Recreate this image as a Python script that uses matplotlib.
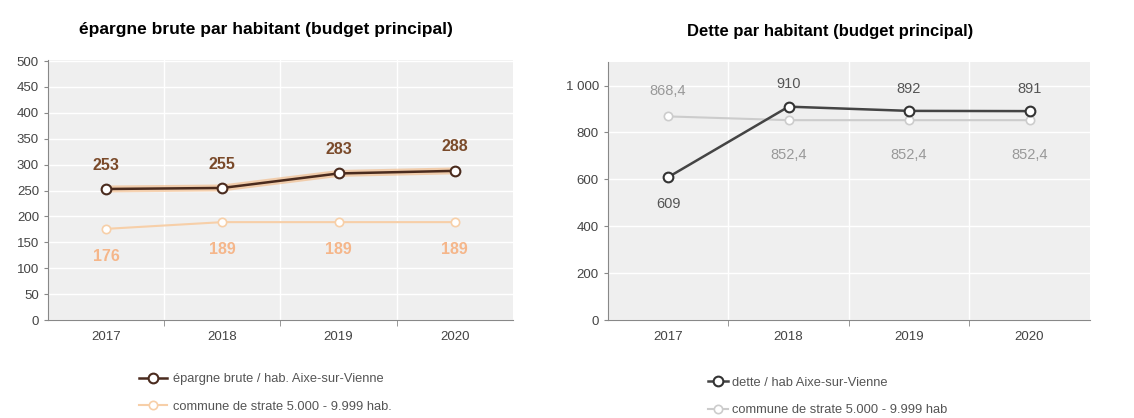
# two line charts: épargne brute and dette par habitant

import matplotlib.pyplot as plt
from matplotlib.ticker import FuncFormatter

plt.rcParams['font.family'] = ['Liberation Sans', 'DejaVu Sans']

years = ['2017', '2018', '2019', '2020']

# épargne brute par habitant
epargne_commune = [253, 255, 283, 288]
epargne_strate = [176, 189, 189, 189]
epargne_strate_labels = ['176', '189', '189', '189']

# dette par habitant
dette_commune = [609, 910, 892, 891]
dette_strate = [868.4, 852.4, 852.4, 852.4]
dette_strate_labels = ['868,4', '852,4', '852,4', '852,4']

x = range(len(years))

fig = plt.figure(figsize=(11.34, 4.18), dpi=100)
ax1 = fig.add_axes([0.0423, 0.2344, 0.410, 0.622])
ax2 = fig.add_axes([0.536, 0.2344, 0.425, 0.617])


def style_axes(ax, ymax, yticks):
    ax.set_facecolor('#efefef')
    ax.set_xlim(-0.5, 3.5)
    ax.set_ylim(0, ymax)
    ax.set_yticks(yticks)
    ax.set_xticks(list(x))
    ax.set_xticklabels(years, fontsize=9.5, color='#444444')
    ax.set_xticks([0.5, 1.5, 2.5], minor=True)
    ax.tick_params(axis='x', which='major', length=0, pad=8)
    ax.tick_params(axis='x', which='minor', length=4, color='#888888')
    ax.tick_params(axis='y', length=3, color='#888888', labelsize=9.5, labelcolor='#444444')
    ax.grid(True, axis='y', color='white', lw=1)
    ax.grid(True, axis='x', which='minor', color='white', lw=1)
    ax.set_axisbelow(True)
    for s in ['top', 'right']:
        ax.spines[s].set_visible(False)
    ax.spines['left'].set_color('#888888')
    ax.spines['bottom'].set_color('#888888')


# --- left chart
style_axes(ax1, 502, range(0, 501, 50))
ax1.set_title('épargne brute par habitant (budget principal)', fontsize=12.5,
              fontweight='bold', pad=19, x=0.469)
ax1.plot(x, epargne_strate, color='#f7cfa8', lw=1.5, marker='o', ms=6,
         mfc='white', mec='#f7cfa8', mew=1.2,
         label='commune de strate 5.000 - 9.999 hab.')
ax1.plot(x, epargne_commune, color='#f2b67f', lw=5, alpha=0.6, zorder=2)
ax1.plot(x, epargne_commune, color='#4a2b1e', lw=1.8, marker='o', ms=7,
         mfc='white', mec='#4a2b1e', mew=1.5, zorder=3,
         label='épargne brute / hab. Aixe-sur-Vienne')
for i, v in enumerate(epargne_commune):
    ax1.annotate(str(v), (i, v), xytext=(0, 14), textcoords='offset points',
                 ha='center', fontsize=11.5, fontweight='bold', color='#7a4a2a')
for i, v in enumerate(epargne_strate):
    ax1.annotate(epargne_strate_labels[i], (i, v), xytext=(0, -20),
                 textcoords='offset points', ha='center', va='center',
                 fontsize=11.5, fontweight='bold', color='#f5b68a')
h, l = ax1.get_legend_handles_labels()
ax1.legend(h[::-1], l[::-1], loc='upper center', bbox_to_anchor=(0.467, -0.16),
           frameon=False, fontsize=9.3, handlelength=2.2, handletextpad=0.4,
           labelspacing=1.2, labelcolor='#555555')

# --- right chart
style_axes(ax2, 1100, range(0, 1001, 200))
ax2.yaxis.set_major_formatter(FuncFormatter(lambda v, p: f'{int(v):,}'.replace(',', ' ')))
ax2.set_title('Dette par habitant (budget principal)', fontsize=12,
              fontweight='bold', pad=19, x=0.462)
ax2.plot(x, dette_strate, color='#cccccc', lw=1.5, marker='o', ms=6,
         mfc='white', mec='#cccccc', mew=1.2,
         label='commune de strate 5.000 - 9.999 hab')
ax2.plot(x, dette_commune, color='#444444', lw=1.8, marker='o', ms=7,
         mfc='white', mec='#333333', mew=1.5, zorder=3,
         label='dette / hab Aixe-sur-Vienne')
for i, v in enumerate(dette_commune):
    off = -19 if i == 0 else 16
    ax2.annotate(str(v), (i, v), xytext=(0, off), textcoords='offset points',
                 ha='center', va='center', fontsize=10.5, color='#555555')
for i, v in enumerate(dette_strate):
    off = 18 if i == 0 else -25
    ax2.annotate(dette_strate_labels[i], (i, v), xytext=(0, off),
                 textcoords='offset points', ha='center', va='center',
                 fontsize=10.5, color='#999999')
h, l = ax2.get_legend_handles_labels()
ax2.legend(h[::-1], l[::-1], loc='upper center', bbox_to_anchor=(0.456, -0.175),
           frameon=False, fontsize=9.3, handlelength=1.6, handletextpad=0.3,
           labelspacing=1.2, labelcolor='#555555')

fig.savefig('out.png', dpi=100)
